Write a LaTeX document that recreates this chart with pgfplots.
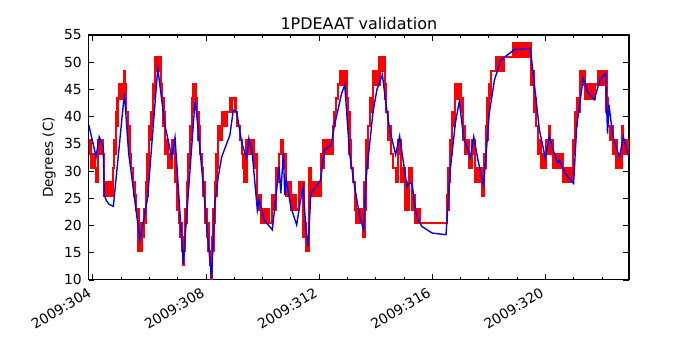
\documentclass[border=0pt]{standalone}
\usepackage{fontspec}
\setmainfont{DejaVu Sans}
\usepackage{pgfplots}
\pgfplotsset{compat=1.18}
\usepackage{pgfplotstable}
\usepgfplotslibrary{fillbetween}

\pgfplotstableread{
x lo hi
303.86 33.15 35.7
303.94 30.6 33.15
304.06 30.6 30.6
304.12 28.05 28.05
304.18 33.15 35.7
304.35 33.15 33.15
304.41 25.5 25.5
304.49 25.5 28.05
304.71 30.6 30.6
304.76 33.15 35.7
304.82 38.25 40.8
304.88 43.35 43.35
304.94 43.35 45.9
305.06 45.9 45.9
305.10 48.45 48.45
305.13 43.35 45.9
305.18 40.8 40.8
305.24 35.7 38.25
305.30 33.15 33.15
305.35 30.6 30.6
305.42 28.05 28.05
305.48 25.5 25.5
305.53 22.95 22.95
305.62 15.3 20.4
305.67 15.3 17.85
305.74 17.85 20.4
305.82 20.4 22.95
305.88 25.5 28.05
305.94 30.6 33.15
306.00 35.7 38.25
306.06 38.25 40.8
306.12 43.35 45.9
306.21 48.45 51.0
306.42 45.9 45.9
306.45 43.35 43.35
306.50 38.25 40.8
306.56 33.15 35.7
306.67 30.6 33.15
306.79 33.15 35.7
306.91 28.05 30.6
306.97 25.5 25.5
307.00 22.95 22.95
307.05 20.4 20.4
307.09 17.85 20.4
307.15 15.3 15.3
307.18 12.75 12.75
307.23 15.3 17.85
307.27 20.4 22.95
307.32 25.5 28.05
307.38 30.6 33.15
307.44 35.7 38.25
307.50 40.8 43.35
307.55 43.35 45.9
307.59 45.9 45.9
307.66 43.35 43.35
307.70 40.8 40.8
307.74 35.7 38.25
307.80 33.15 33.15
307.85 30.6 30.6
307.90 25.5 28.05
307.97 20.4 22.95
308.03 17.85 20.4
308.09 15.3 15.3
308.14 12.75 12.75
308.18 10.2 10.2
308.22 15.3 17.85
308.27 20.4 22.95
308.32 25.5 28.05
308.38 30.6 33.15
308.44 35.7 38.25
308.56 38.25 40.8
308.74 40.8 40.8
308.85 40.8 43.35
308.91 43.35 43.35
309.05 40.8 40.8
309.10 38.25 38.25
309.21 35.7 35.7
309.27 33.15 33.15
309.32 30.6 33.15
309.35 28.05 30.6
309.44 33.15 35.7
309.70 30.6 33.15
309.80 25.5 25.5
309.86 22.95 25.5
309.94 20.4 22.95
310.23 20.4 20.4
310.35 22.95 25.5
310.47 28.05 30.6
310.59 33.15 33.15
310.66 33.15 35.7
310.72 30.6 33.15
310.82 25.5 28.05
311.00 22.95 25.5
311.17 22.95 22.95
311.29 25.5 28.05
311.45 17.85 20.4
311.53 15.3 17.85
311.62 15.3 15.3
311.65 30.6 30.6
311.70 25.5 28.05
312.06 30.6 33.15
312.14 30.6 35.7
312.18 33.15 35.7
312.49 38.25 38.25
312.55 40.8 40.8
312.61 43.35 43.35
312.67 45.9 45.9
312.73 45.9 48.45
312.97 43.35 43.35
313.02 38.25 40.8
313.08 33.15 35.7
313.14 30.6 30.6
313.20 28.05 28.05
313.26 22.95 25.5
313.32 20.4 22.95
313.55 17.85 17.85
313.61 22.95 28.05
313.67 30.6 35.7
313.73 38.25 38.25
313.80 40.8 43.35
313.91 45.9 48.45
314.14 48.45 51.0
314.32 43.35 45.9
314.38 40.8 40.8
314.44 35.7 38.25
314.55 33.15 33.15
314.62 30.6 30.6
314.71 28.05 30.6
314.79 33.15 35.7
314.91 28.05 30.6
315.05 22.95 28.05
315.17 28.05 30.6
315.29 22.95 25.5
315.40 20.4 22.95
315.58 20.4 20.4
316.52 22.95 25.5
316.58 28.05 30.6
316.64 33.15 35.7
316.70 38.25 40.8
316.82 43.35 45.9
316.94 45.9 45.9
317.03 40.8 43.35
317.10 35.7 38.25
317.17 33.15 35.7
317.29 30.6 33.15
317.41 33.15 35.7
317.52 28.05 30.6
317.76 25.5 28.05
317.84 30.6 33.15
317.90 35.7 38.25
317.96 40.8 43.35
318.02 43.35 45.9
318.08 48.45 48.45
318.26 48.45 51.0
318.55 51.0 51.0
318.85 51.0 53.55
319.49 45.9 48.45
319.61 40.8 43.35
319.67 38.25 38.25
319.73 33.15 35.7
319.85 30.6 33.15
320.02 33.15 35.7
320.12 38.25 38.25
320.16 33.15 35.7
320.26 30.6 33.15
320.63 28.05 30.6
320.99 33.15 35.7
321.05 38.25 40.8
321.11 40.8 43.35
321.23 45.9 48.45
321.40 43.35 45.9
321.75 45.9 45.9
321.87 45.9 48.45
322.16 40.8 43.35
322.22 38.25 38.25
322.28 35.7 38.25
322.40 33.15 35.7
322.52 30.6 33.15
322.70 38.25 38.25
322.74 33.15 35.7
322.96 33.15 35.7
}\redtab

\pgfplotstableread{
x y
303.86 38.5
304.12 32.6
304.23 36.3
304.37 34.5
304.41 25.6
304.48 24.6
304.58 23.9
304.73 23.5
305.12 44.3
305.27 33.3
305.47 25.3
305.67 17.3
305.94 25.0
306.30 48.9
306.55 38.5
306.79 32.6
306.91 36.2
307.00 29.0
307.20 13.0
307.62 43.1
307.73 37.6
308.20 10.3
308.32 24.1
308.44 29.0
308.56 32.6
308.85 36.6
308.97 41.2
309.09 40.9
309.27 35.1
309.44 32.4
309.52 36.0
309.64 33.3
309.82 22.8
309.88 24.7
310.06 21.0
310.35 19.2
310.59 30.8
310.65 25.9
310.74 33.3
310.79 25.6
310.84 28.4
311.00 23.5
311.21 20.1
311.33 24.1
311.44 27.0
311.53 19.8
311.62 16.1
311.71 25.9
311.76 26.2
312.06 28.4
312.18 33.6
312.20 33.9
312.43 34.8
312.55 38.5
312.67 41.2
312.80 44.3
312.91 45.8
313.08 33.3
313.26 27.1
313.44 21.6
313.58 19.2
313.67 29.0
313.91 40.9
314.05 45.0
314.24 47.7
314.38 41.8
314.50 37.6
314.71 33.0
314.85 36.4
315.04 29.6
315.11 27.1
315.17 27.7
315.29 27.7
315.41 22.8
315.50 21.0
315.64 19.8
316.00 18.6
316.49 18.3
316.64 30.2
316.82 38.8
316.96 42.8
317.11 36.3
317.35 32.4
317.47 36.3
317.62 32.0
317.82 27.4
318.02 40.6
318.20 46.7
318.43 50.4
318.90 52.3
319.47 52.6
319.61 46.1
319.79 37.6
320.00 32.4
320.14 36.3
320.26 34.2
320.44 31.4
320.50 32.0
320.55 31.4
320.70 29.6
321.00 27.7
321.11 38.2
321.34 47.1
321.52 44.3
321.73 43.1
321.93 46.7
322.13 48.0
322.20 36.9
322.25 42.2
322.39 36.3
322.62 32.6
322.76 36.3
322.96 32.4
}\bluetab

\begin{document}
\begin{tikzpicture}
\begin{axis}[
  at={(63.9pt,50.5pt)}, anchor=south west,
  scale only axis, width=389pt, height=176.3pt,
  xmin=303.86, xmax=322.96, ymin=10, ymax=55,
  xtick={304,308,312,316,320},
  xticklabels={2009:304,2009:308,2009:312,2009:316,2009:320},
  minor xtick={305,306,307,309,310,311,313,314,315,317,318,319,321,322},
  ytick={10,15,...,55},
  tick align=inside,
  major tick length=4pt, minor tick length=2pt,
  every tick/.style={black, line width=0.5pt},
  axis line style={line width=0.8pt},
  /pgf/number format/assume math mode=true,
  tick label style={font=\fontsize{10}{12}\selectfont},
  yticklabel style={xshift=-1.5pt},
  xticklabel style={yshift=-11.5pt, rotate=31, anchor=south east, inner sep=0pt},
  title={1PDEAAT validation},
  title style={at={(0.5,1)}, anchor=base, yshift=-1.8pt, font=\fontsize{11.5}{13}\selectfont},
  ylabel={Degrees (C)},
  every axis y label/.style={at={(axis description cs:-0.0733,0.5)}, rotate=90, anchor=center, font=\fontsize{9.8}{11}\selectfont},
  no markers,
]
\addplot[name path=up, red, line width=1.6pt, const plot] table[x=x, y=hi] {\redtab};
\addplot[name path=lo, red, line width=1.6pt, const plot] table[x=x, y=lo] {\redtab};
\addplot[red] fill between[of=up and lo];
\addplot[blue, line width=1pt] table[x=x, y=y] {\bluetab};
\end{axis}
\path (0,0) rectangle (504pt,252pt);
\end{tikzpicture}
\end{document}
